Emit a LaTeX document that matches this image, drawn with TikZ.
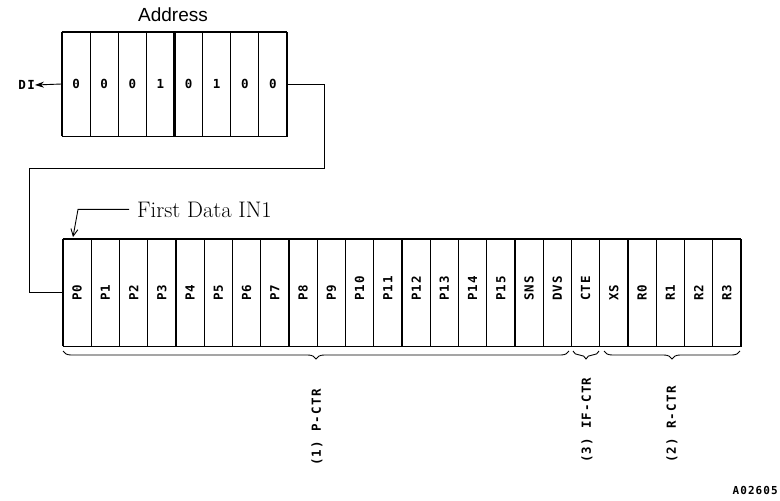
\documentclass[tikz,border=0pt]{standalone}
\usepackage{fontspec}
\newfontfamily\arialf{Liberation Sans}
\newfontfamily\monof{DejaVu Sans Mono}[LetterSpace=10]
\usetikzlibrary{decorations.pathreplacing,arrows.meta}
\begin{document}
\begin{tikzpicture}[x=1pt,y=-1pt,
  tcell/.style={draw, line width=0.8pt, minimum width=28.125pt, minimum height=104pt, inner sep=0pt,
    font=\monof\bfseries\fontsize{12.5}{14}\selectfont},
  bcell/.style={draw, line width=0.8pt, minimum width=28.25pt, minimum height=107pt, inner sep=0pt},
  lab/.style={rotate=90, anchor=west, inner sep=0pt, font=\monof\bfseries\fontsize{12.5}{14}\selectfont},
  heavy/.style={line width=2.4pt},
  edge/.style={line width=1.3pt},
  wire/.style={line width=0.9pt},
  brc/.style={decorate, decoration={brace, mirror, amplitude=8pt}, line width=0.9pt}
]
\useasboundingbox (0,0) rectangle (780,501);

% Title
\node[font=\arialf\fontsize{19}{22}\selectfont] (addr) at (173,15) {Address};

% top register
\foreach \t [count=\i] in {0,0,0,1,0,1,0,0}
  \node[tcell] (t\i) at ({62+28.125*(\i-0.5)},84) {\t};
\draw[edge] (t1.north west) -- (t8.north east);
\draw[edge] (t1.south west) -- (t8.south east);
\foreach \k in {0,1,2}
  \draw[heavy] ({62+112.5*\k},32) -- ({62+112.5*\k},136);

% DI
\node[anchor=east, inner sep=0pt, font=\monof\bfseries\fontsize{12.5}{14}\selectfont] (di) at (35,85) {DI};
\draw[wire, -{Stealth[length=9pt,width=6pt]}] (t1.west) -- (di.east);

% bottom register
\foreach \t [count=\i] in {P0,P1,P2,P3,P4,P5,P6,P7,P8,P9,P10,P11,P12,P13,P14,P15,SNS,DVS,CTE,XS,R0,R1,R2,R3}{
  \node[bcell] (b\i) at ({63+28.25*(\i-0.5)},292.5) {};
  \node[lab] (l\i) at ({63+28.25*(\i-0.5)},301) {\t};
}
\draw[edge] (b1.north west) -- (b24.north east);
\draw[edge] (b1.south west) -- (b24.south east);
\foreach \k in {0,...,6}
  \draw[heavy] ({63+113*\k},239) -- ({63+113*\k},346);

% connector
\coordinate (c1) at (324,168);
\coordinate (c2) at (29,168);
\draw[wire] (t8.east) -| (c1) -- (c2) |- (b1.west);

% First Data IN1
\node[anchor=base west, inner sep=0pt, font=\fontsize{22.5}{26}\selectfont] (fd) at (137,217) {First Data IN1};
\coordinate (k) at (86,0);
\coordinate (tip) at (73,237);
\draw[wire, -{Straight Barb[length=7pt,width=7pt]}] ([xshift=-8pt]fd.west) -- ([xshift=-8pt]fd.west -| k) -- (tip);

% braces
\draw[brc] (63,351) -- (569,351);
\draw[brc] (573,351) -- (599,351);
\draw[brc] (604,351) -- (740,351);
\node[lab] (g1) at (317,466) {(1) P-CTR};
\node[lab] (g3) at (587,463) {(3) IF-CTR};
\node[lab] (g2) at (672,463) {(2) R-CTR};

% code
\node[anchor=east, inner sep=0pt, font=\monof\bfseries\fontsize{11}{12}\selectfont] (code) at (778,490) {A02605};
\end{tikzpicture}
\end{document}
